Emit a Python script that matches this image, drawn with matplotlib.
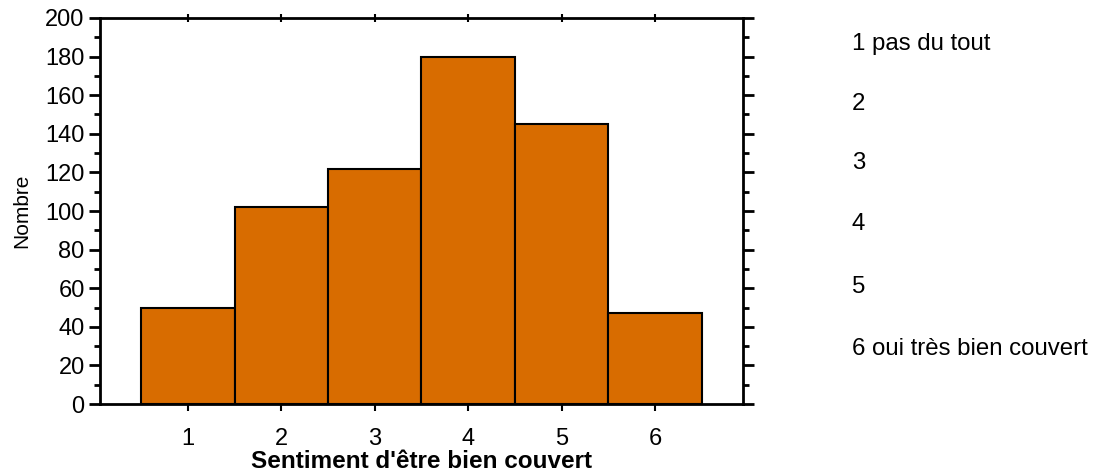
import matplotlib.pyplot as plt
from matplotlib.ticker import MultipleLocator

plt.rcParams['font.family'] = ['Liberation Sans', 'DejaVu Sans']

# data
categories = [1, 2, 3, 4, 5, 6]
counts = [50, 102, 122, 180, 145, 47]
legend_labels = ["1 pas du tout", "2", "3", "4", "5", "6 oui très bien couvert"]

fig = plt.figure(figsize=(11.09, 4.73), dpi=100)
ax = fig.add_axes([100 / 1109, 1 - 404 / 473, 643 / 1109, 386 / 473])

ax.bar(categories, counts, width=1.0, color='#d86c00', edgecolor='black', linewidth=1.5)

ax.set_xlim(0.06, 6.94)
ax.set_ylim(0, 200)
ax.set_xticks(categories)
ax.yaxis.set_major_locator(MultipleLocator(20))
ax.yaxis.set_minor_locator(MultipleLocator(10))

for s in ax.spines.values():
    s.set_linewidth(2)

ax.tick_params(axis='y', which='major', direction='out', length=8, width=2,
               labelsize=17, left=True, right=True, pad=3)
ax.tick_params(axis='y', which='minor', direction='out', length=4, width=2,
               left=True, right=True)
ax.tick_params(axis='x', which='major', direction='out', length=5, width=1.5,
               labelsize=17, pad=12, bottom=True, top=False)

# small ticks crossing the top spine
top = ax.secondary_xaxis('top')
top.set_xticks(categories)
top.tick_params(direction='inout', length=6, width=1.5, labelsize=0)
top.set_xticklabels([])
top.spines['top'].set_visible(False)

ax.set_ylabel("Nombre", fontsize=15, labelpad=10)
ax.set_xlabel("Sentiment d'être bien couvert", fontsize=17.5, fontweight='bold', labelpad=0)

# category key on the right
ys = [44, 104, 163, 224, 287, 349]
for lab, y in zip(legend_labels, ys):
    fig.text(852 / 1109, 1 - y / 473, lab, fontsize=17.3, va='center', ha='left')

fig.savefig("out.png", dpi=100)
